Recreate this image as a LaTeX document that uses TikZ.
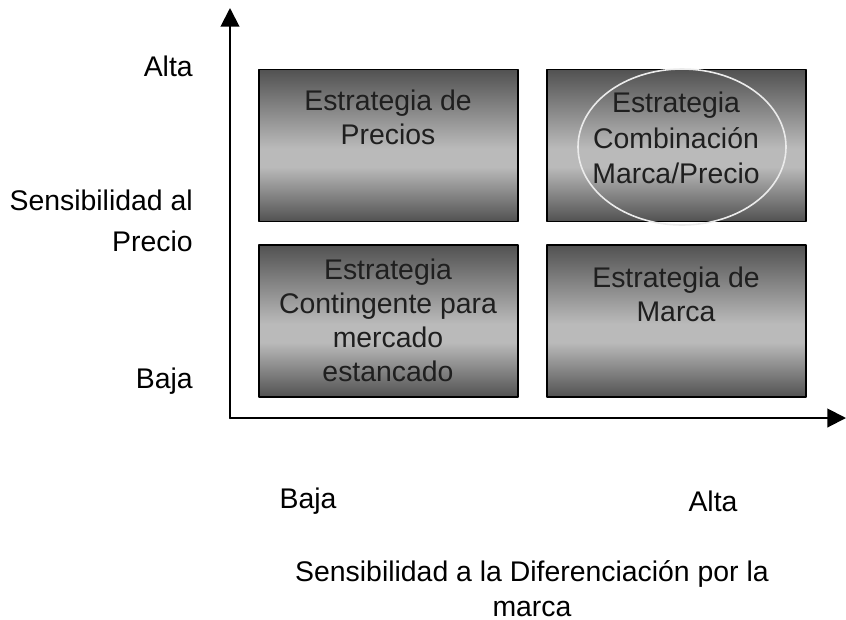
\documentclass[tikz,border=0pt]{standalone}
\usepackage{fontspec}
\setmainfont{Liberation Sans}
\usepackage{tikz}
\usetikzlibrary{arrows.meta}
\definecolor{boxdark}{rgb}{0.32,0.32,0.32}
\definecolor{boxlight}{rgb}{0.73,0.73,0.73}
\definecolor{txtgray}{rgb}{0.12,0.12,0.12}
\definecolor{ringgray}{rgb}{0.92,0.92,0.92}
\pgfdeclareverticalshading{boxgrad}{100bp}{color(0bp)=(boxdark); color(25bp)=(boxdark); color(43bp)=(boxlight); color(49bp)=(boxlight); color(75bp)=(boxdark); color(100bp)=(boxdark)}
\tikzset{
  every node/.style={font=\fontsize{21.3}{25.5}\selectfont, inner sep=0pt},
  cuadro/.style={draw=black, line width=1.1pt, shading=boxgrad, minimum width=194pt, minimum height=114pt},
  rotulo/.style={text=txtgray, align=center},
  eje/.style={line width=1.5pt, -{Triangle[length=14pt,width=14pt]}}
}

\begin{document}
\begin{tikzpicture}[x=0.75pt,y=-0.75pt,line cap=round,line join=round]
  \useasboundingbox (0,0) rectangle (846,619);
  \coordinate (o) at (230,418);
  \coordinate (ytop) at (230,8);
  \coordinate (xend) at (846,418);
  \draw[eje] (o) -- (ytop);
  \draw[eje] (o) -- (xend);

  \node[cuadro] (precios) at (388.5,145.5) {};
  \node[cuadro] (combinada) at (676.5,145.5) {};
  \node[cuadro] (contingente) at (388.5,321) {};
  \node[cuadro] (marca) at (676.5,321) {};
  \draw[ringgray, line width=1.2pt] (682,147) ellipse [x radius=78pt, y radius=58.5pt];

  \node[rotulo] (tprecios) at (388,117) {Estrategia de\\Precios};
  \node[rotulo] (tcombinada) at (676,138) {Estrategia\\[1pt]Combinación\\[1pt]Marca/Precio};
  \node[rotulo] (tcontingente) at (388,320) {Estrategia\\Contingente para\\mercado\\estancado};
  \node[rotulo] (tmarca) at (676,294) {Estrategia de\\Marca};

  \node[anchor=east] (yalta) at (193,66) {Alta};
  \node[anchor=east, align=right] (ytitulo) at (193,221) {Sensibilidad al\\[5.25pt]Precio};
  \node[anchor=east] (ybaja) at (193,381) {Baja};
  \node (xbaja) at (308,501) {Baja};
  \node (xalta) at (713,501) {Alta};
  \node[align=center] (xtitulo) at (532,589) {Sensibilidad a la Diferenciación por la\\[0.75pt]marca};
\end{tikzpicture}
\end{document}
